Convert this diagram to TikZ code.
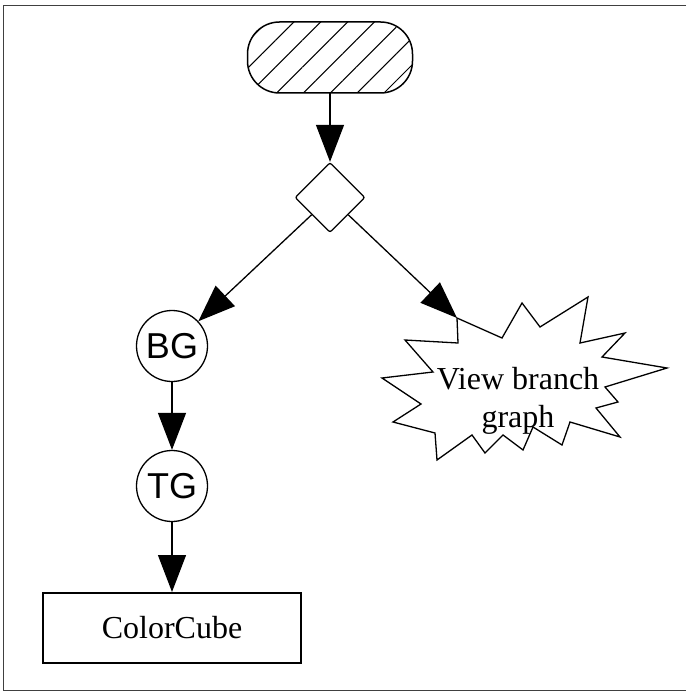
\documentclass[tikz,border=0pt]{standalone}
\usepackage{fontspec}
\setmainfont{Liberation Serif}
\newfontfamily\grpfont{Liberation Sans}
\usetikzlibrary{shapes.geometric,arrows.meta,patterns.meta}
\tikzset{line/.style={draw,line width=1.3pt}}
\tikzset{arr/.style={draw,line width=1.3pt,-{Triangle[length=37pt,width=28pt]}}}
\tikzset{term/.style={draw,line width=1.5pt,rounded corners=32pt,
        minimum width=165pt,minimum height=71pt,
        pattern={Lines[angle=45,distance=19pt,line width=1pt]}}}
\tikzset{dec/.style={draw,diamond,line width=1.3pt,minimum width=70pt,
        minimum height=70pt,inner sep=0pt,rounded corners=2pt}}
\tikzset{grp/.style={draw,circle,line width=1.3pt,minimum size=71pt,
        inner sep=0pt,font=\grpfont\fontsize{36}{36}\selectfont}}
\tikzset{leaf/.style={draw,line width=2pt,minimum width=258pt,
        minimum height=70pt,font=\fontsize{32}{38}\selectfont}}
\begin{document}
\begin{tikzpicture}[x=1pt,y=-1pt]
    \useasboundingbox (0,0) rectangle (686,692);
    % frame
    \draw[line width=1pt,black!75] (686,6) -- (3,6) -- (3,690.5) -- (686,690.5);
    % nodes
    \node[term] (start) at (330,57.5) {};
    \node[dec] (d) at (330,197.5) {};
    \node[grp] (bg) at (172,346) {BG};
    \node[grp] (tg) at (172,486) {TG};
    \node[leaf] (cube) at (172,628) {ColorCube};
    % view branch graph
    \draw[line,line join=miter] (457,318) -- (502,338) -- (522,303) -- (540,327)
        -- (588,297) -- (580,343) -- (625,333) -- (602,357) -- (667,368)
        -- (605,387) -- (618,402) -- (596,408) -- (620,437) -- (570,422)
        -- (562,445) -- (533,427) -- (523,450) -- (503,435) -- (485,453)
        -- (472,435) -- (437,460) -- (435,433) -- (393,422) -- (421,404)
        -- (382,378) -- (433,372) -- (405,340) -- (458,343) -- cycle;
    \node[align=center,font=\fontsize{32}{38}\selectfont] (view) at (518,401)
        {View branch\\graph};
    \coordinate (burst) at (457,318);
    % connectors
    \draw[arr] (start) -- (d);
    \draw[arr] (d) -- (bg);
    \draw[arr] (d) -- (burst);
    \draw[arr] (bg) -- (tg);
    \draw[arr] (tg) -- (cube);
\end{tikzpicture}
\end{document}
